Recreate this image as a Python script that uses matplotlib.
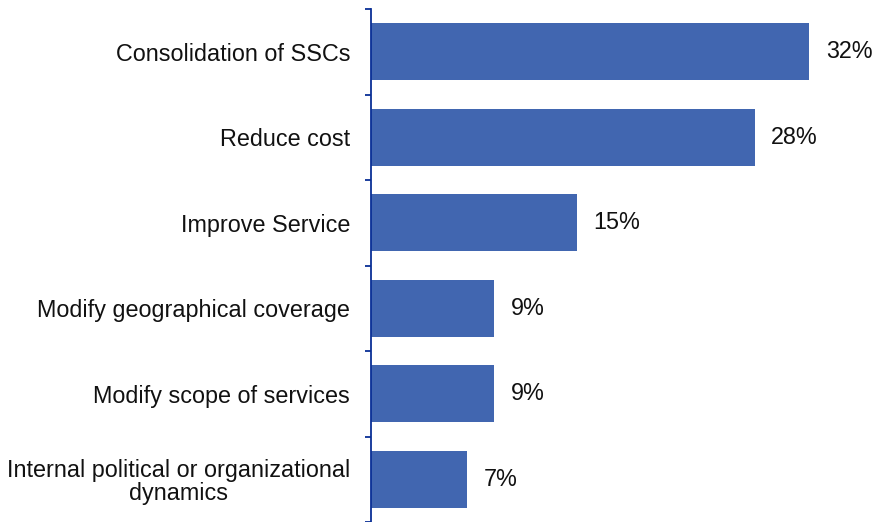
import matplotlib
matplotlib.use("Agg")
import matplotlib.pyplot as plt

categories = [
    "Consolidation of SSCs",
    "Reduce cost",
    "Improve Service",
    "Modify geographical coverage",
    "Modify scope of services",
    "Internal political or organizational\ndynamics",
]
values = [32, 28, 15, 9, 9, 7]
value_labels = ["32%", "28%", "15%", "9%", "9%", "7%"]

plt.rcParams["font.family"] = ["Liberation Sans", "DejaVu Sans"]

fig = plt.figure(figsize=(8.75, 5.22), dpi=100)
ax = fig.add_axes([371 / 875, 0.0, 1 - 371 / 875, (522 - 9) / 522])

bar_color = "#4166B0"
axis_color = "#0A2F96"
fs = 16.8

n = len(categories)
pos = list(range(n))
ax.barh(pos, values, height=0.67, color=bar_color)

ax.set_ylim(n - 0.5, -0.5)
ax.set_xlim(0, 504 / 13.7)

ax.set_yticks(pos)
ax.set_yticklabels(categories, fontsize=fs, ha="right", multialignment="center",
                   linespacing=1.02, color="#111111")

ax.set_yticks([i - 0.5 for i in range(n + 1)], minor=True)
ax.tick_params(axis="y", which="major", length=0, pad=15)
ax.tick_params(axis="y", which="minor", length=4.5, width=1.3, color=axis_color, direction="out")
ax.set_xticks([])

for s in ["top", "right", "bottom"]:
    ax.spines[s].set_visible(False)
ax.spines["left"].set_color(axis_color)
ax.spines["left"].set_linewidth(1.3)

for i, (v, t) in enumerate(zip(values, value_labels)):
    ax.annotate(t, xy=(v, i), xytext=(12, 0), textcoords="offset points",
                va="center", ha="left", fontsize=fs, color="#111111")

fig.savefig("out.png", dpi=100)
